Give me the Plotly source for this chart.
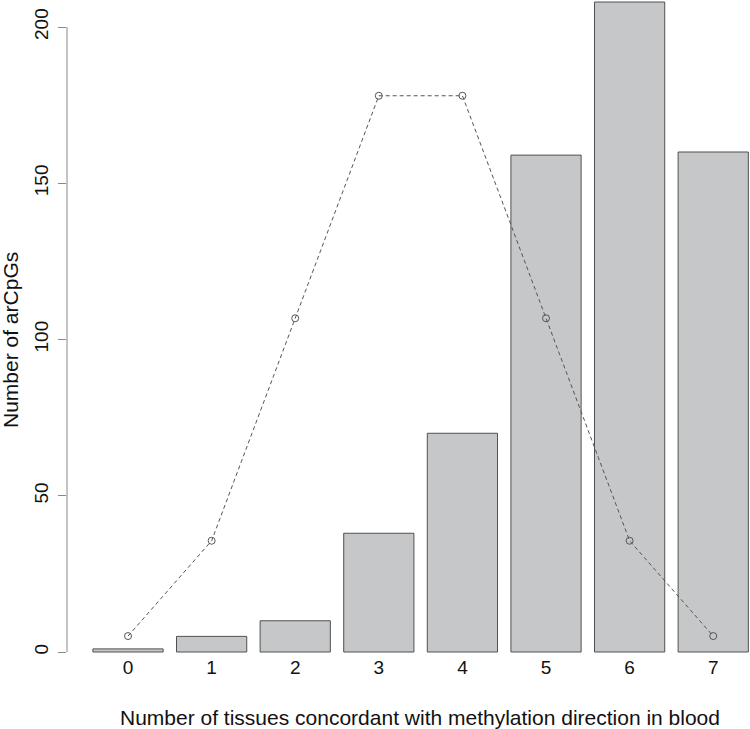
import plotly.graph_objects as go

n_tissues = [0, 1, 2, 3, 4, 5, 6, 7]
observed = [1, 5, 10, 38, 70, 159, 208, 160]
expected = [5.1, 35.6, 106.8, 178.0, 178.0, 106.8, 35.6, 5.1]
y_ticks = [0, 50, 100, 150, 200]

font = "Liberation Sans, Arial, sans-serif"

bars = go.Bar(x=n_tissues, y=observed,
              marker=dict(color="#c6c7c9", line=dict(color="#505050", width=1)),
              width=0.84, hoverinfo="x+y")
line = go.Scatter(x=n_tissues, y=expected, mode="lines+markers",
                  line=dict(color="#555555", width=1, dash="4px,3px"),
                  marker=dict(symbol="circle-open", size=7, color="#555555",
                              line=dict(width=1, color="#555555")))

fig = go.Figure(data=[bars, line])
fig.update_layout(
    width=750, height=729,
    margin=dict(l=67, r=0, t=0, b=75),
    plot_bgcolor="white", paper_bgcolor="white",
    showlegend=False,
    font=dict(family=font, size=19, color="#111111"),
    xaxis=dict(range=[-0.73, 7.44], tickvals=n_tissues, ticktext=[str(v) for v in n_tissues],
               showgrid=False, zeroline=False, showline=False, ticks=""),
    yaxis=dict(range=[-0.64, 208.64], tickvals=y_ticks, ticktext=[str(v) for v in y_ticks],
               showgrid=False, zeroline=False, showline=False,
               ticks="outside", ticklen=8, tickcolor="#888888", tickangle=-90,
               ticklabelstandoff=2),
    shapes=[dict(type="line", xref="paper", yref="y", x0=0, x1=0, y0=0, y1=200,
                 line=dict(color="#888888", width=1))],
    annotations=[
        dict(text="Number of tissues concordant with methylation direction in blood",
             xref="paper", yref="paper", x=(420 - 67) / 683, y=(654 - 717) / 654,
             xanchor="center", yanchor="middle", showarrow=False, font=dict(size=21)),
        dict(text="Number of arCpGs", textangle=-90,
             xref="paper", yref="paper", x=(10 - 67) / 683, y=(654 - 340) / 654,
             xanchor="center", yanchor="middle", showarrow=False, font=dict(size=21)),
    ],
)

fig.write_html("out.html", config={"displayModeBar": False},
               post_script="document.body.style.margin='0';")
